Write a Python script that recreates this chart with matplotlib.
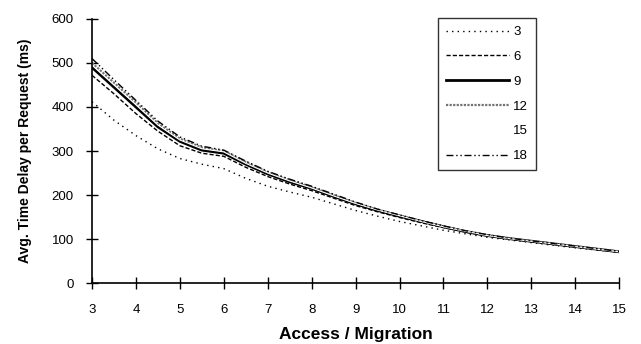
import numpy as np
import matplotlib.pyplot as plt

x = [3, 3.5, 4, 4.5, 5, 5.5, 6, 6.5, 7, 7.5, 8, 8.5, 9, 9.5, 10, 10.5, 11, 11.5, 12, 12.5, 13, 13.5, 14, 14.5, 15]
labels = ["3", "6", "9", "12", "15", "18"]
d3 = [412, 370, 335, 305, 283, 270, 260, 238, 220, 207, 195, 180, 165, 152, 140, 130, 120, 112, 104, 98, 92, 86, 80, 75, 70]
d6 = [472, 430, 385, 345, 312, 295, 288, 263, 242, 225, 210, 193, 176, 162, 149, 137, 126, 116, 107, 100, 94, 88, 82, 76, 70]
d9 = [490, 445, 400, 355, 322, 302, 295, 270, 248, 230, 215, 197, 180, 165, 152, 140, 128, 117, 108, 101, 95, 89, 83, 77, 71]
d12 = [500, 455, 410, 363, 328, 308, 300, 275, 252, 234, 218, 200, 182, 167, 154, 141, 129, 118, 109, 102, 96, 90, 84, 78, 72]
d15 = [495, 450, 405, 359, 325, 305, 298, 272, 250, 232, 216, 198, 181, 166, 153, 140, 128, 118, 108, 101, 95, 89, 83, 77, 71]
d18 = [510, 462, 415, 368, 332, 311, 302, 277, 254, 236, 220, 202, 184, 168, 155, 142, 130, 119, 110, 102, 96, 90, 84, 78, 72]

plt.rcParams['font.family'] = ['Liberation Sans', 'DejaVu Sans']
fig = plt.figure(figsize=(6.41, 3.44), dpi=100)
ax = fig.add_axes([0.1435, 0.177, 0.8225, 0.768])

ax.plot(x, d3, color='black', lw=1, ls=(0, (1, 3)), label=labels[0])
ax.plot(x, d6, color='black', lw=1, ls=(0, (3, 1.5)), label=labels[1])
ax.plot(x, d9, color='black', lw=2, ls='-', label=labels[2])
ax.plot(x, d12, color='0.45', lw=1.6, ls=(0, (1, 0.6)), label=labels[3])
ax.plot(x, d15, color='white', lw=0.8, ls='-', label=labels[4])
ax.plot(x, d18, color='black', lw=1, ls=(0, (5, 2, 1, 2, 1, 2)), label=labels[5])

ax.set_xlim(3, 15)
ax.set_ylim(0, 600)
ax.set_xticks(range(3, 16))
ax.set_yticks(range(0, 601, 100))
for s in ['top', 'right']:
    ax.spines[s].set_visible(False)
for s in ['left', 'bottom']:
    ax.spines[s].set_linewidth(1.2)
ax.tick_params(direction='inout', length=8, width=1, labelsize=9.5)
ax.tick_params(axis='x', pad=11)
ax.tick_params(axis='y', pad=9)
ax.set_xlabel('Access / Migration', fontsize=12.5, fontweight='bold', labelpad=8)
ax.set_ylabel('Avg. Time Delay per Request (ms)', fontsize=10, fontweight='bold', labelpad=14)

leg = ax.legend(loc='upper right', bbox_to_anchor=(0.8425, 1.003), fontsize=9.5, frameon=True, fancybox=False,
                edgecolor='black', handlelength=4.8, handletextpad=0.3, labelspacing=0.95,
                borderpad=0.6, borderaxespad=0)
leg.get_frame().set_linewidth(1)

fig.savefig('out.png', dpi=100)
